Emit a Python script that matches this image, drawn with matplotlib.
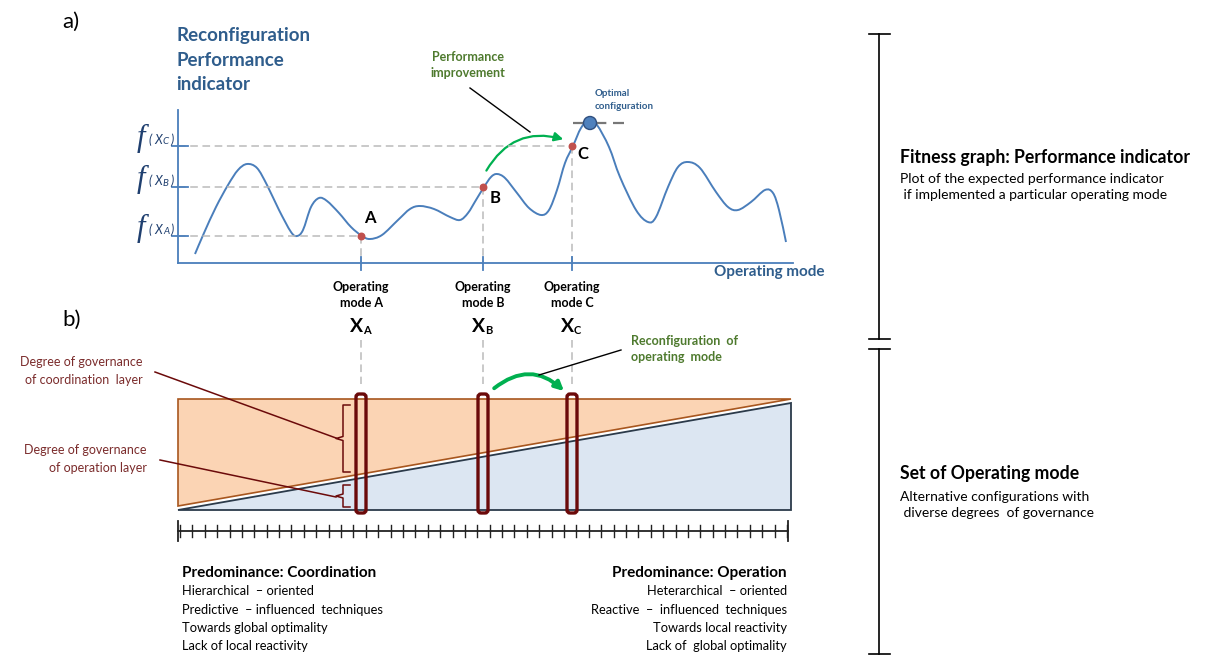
import numpy as np
import matplotlib
matplotlib.use('Agg')
import matplotlib.pyplot as plt
from matplotlib.patches import Polygon, FancyBboxPatch, FancyArrowPatch, Circle, PathPatch
from matplotlib.path import Path

plt.rcParams['font.family'] = ['Lato', 'DejaVu Sans']

# ── fitness curve (pixel coords) ──
curve_x = [195, 204, 216, 228, 238, 247, 257, 267, 279, 291, 297, 303, 311, 319, 327,
           339, 351, 362, 370, 382, 398, 410, 420, 434, 450, 460, 468, 476, 484, 491,
           497, 505, 517, 529, 541, 549, 557, 565, 573, 581, 589, 597, 609, 620, 636,
           648, 656, 668, 678, 688, 700, 716, 728, 738, 751, 765, 773, 779, 786]
curve_y = [254, 233, 207, 185, 170, 164, 168, 185, 210, 232, 236, 230, 207, 198, 201,
           213, 227, 236, 239, 235, 220, 209, 206, 209, 217, 220, 213, 200, 187, 177,
           174, 178, 193, 208, 215, 210, 190, 163, 146, 128, 120, 125, 147, 177, 210,
           222, 217, 187, 167, 162, 168, 192, 207, 210, 202, 190, 193, 210, 242]

modes = ['A', 'B', 'C']
mode_x = [361, 483, 572]
mode_y = [236, 187, 146]
optimum = (590, 123)

bottom_left = ['Predominance: Coordination', 'Hierarchical  \u2013 oriented',
               'Predictive  \u2013 influenced  techniques', 'Towards global optimality',
               'Lack of local reactivity']
bottom_right = ['Predominance: Operation', 'Heterarchical  \u2013 oriented',
                'Reactive  \u2013  influenced  techniques', 'Towards local reactivity',
                'Lack of  global optimality']
n_ruler_ticks = 50

BLUE_T = '#2F5D8C'
BLUE_L = '#4A7EBB'
GREEN_T = '#4E7A2E'
GREEN_A = '#00B050'
DRED = '#6B0A0A'
DRED_T = '#7B2C2C'


def smooth_path(xs, ys):
    """Catmull-Rom through the read points, drawn as cubic Bezier segments."""
    p = np.column_stack([xs, ys]).astype(float)
    verts = [p[0]]
    codes = [Path.MOVETO]
    for i in range(len(p) - 1):
        p0 = p[i - 1] if i > 0 else p[i]
        p3 = p[i + 2] if i + 2 < len(p) else p[i + 1]
        c1 = p[i] + (p[i + 1] - p0) / 6
        c2 = p[i + 1] - (p3 - p[i]) / 6
        verts += [c1, c2, p[i + 1]]
        codes += [Path.CURVE4] * 3
    return Path(verts, codes)


fig = plt.figure(figsize=(12.32, 6.55), dpi=100)
ax = fig.add_axes([0, 0, 1, 1])
ax.set_xlim(0, 1232)
ax.set_ylim(655, 0)
ax.axis('off')

# ── a) fitness graph ──
ax.text(62, 22, 'a)', fontsize=16, va='center')
ax.text(176, 60, 'Reconfiguration\nPerformance\nindicator', fontsize=13.5, fontweight='bold',
        color=BLUE_T, va='center', linespacing=1.5)

ax.plot([178, 178], [110, 263], color=BLUE_L, lw=1.3)
ax.plot([178, 793], [263, 263], color=BLUE_L, lw=1.3)
ax.text(825, 272, 'Operating mode', fontsize=11, fontweight='bold', color=BLUE_T,
        ha='right', va='center')

for m, x, y in zip(modes, mode_x, mode_y):
    ax.plot([178, x], [y, y], color='#BBBBBB', lw=1.1, ls=(0, (5, 3)))
    ax.plot([x, x], [y, 263], color='#BBBBBB', lw=1.1, ls=(0, (5, 3)))
    ax.plot([172, 188], [y, y], color=BLUE_L, lw=1.3)
    ax.plot([x, x], [257, 270], color=BLUE_L, lw=1.3)
    # f(X) labels
    ax.text(141, y - 8, 'f', fontsize=22, style='italic', family='Liberation Serif',
            color='#1F3F6F', ha='center', va='center')
    ax.text(149, y - 6, '( X', fontsize=9, style='italic', color='#1F3F6F', va='center')
    ax.text(163, y - 4, m, fontsize=7, style='italic', color='#1F3F6F', va='center')
    ax.text(170, y - 6, ')', fontsize=9, style='italic', color='#1F3F6F', va='center')
    # operating mode labels
    ax.text(x, 295, 'Operating\nmode ' + m, fontsize=9, fontweight='bold', ha='center',
            va='center', linespacing=1.35)
    ax.text(x + 2, 327, 'X', fontsize=14, fontweight='bold', ha='right', va='center')
    ax.text(x + 2, 330, m, fontsize=8, fontweight='bold', ha='left', va='center')

ax.add_patch(PathPatch(smooth_path(curve_x, curve_y), facecolor='none', edgecolor=BLUE_L,
                       lw=1.4))
ax.scatter(mode_x, mode_y, s=22, color='#C0504D', zorder=5)
for m, x, y, dx, dy in zip(modes, mode_x, mode_y, [9, 12, 11], [-18, 11, 8]):
    ax.text(x + dx, y + dy, m, fontsize=12, fontweight='bold', ha='center', va='center')

ax.plot([573, 624], [optimum[1], optimum[1]], color='#777777', lw=1.6, ls=(0, (6, 3)))
ax.add_patch(Circle(optimum, 6.5, facecolor='#4F81BD', edgecolor='#2F4F7F', lw=1, zorder=6))
ax.text(595, 100, 'Optimal\nconfiguration', fontsize=7, fontweight='bold', color=BLUE_T,
        va='center', linespacing=1.6)

ax.text(468, 65, 'Performance\nimprovement', fontsize=9, fontweight='bold', color=GREEN_T,
        ha='center', va='center', linespacing=1.4)
ax.plot([470, 530], [88, 132], color='black', lw=1)
ax.add_patch(FancyArrowPatch((485, 173), (566, 140), connectionstyle='arc3,rad=-0.4',
                             arrowstyle='-|>', mutation_scale=13, color=GREEN_A, lw=1.6))

# ── b) set of operating modes ──
ax.text(62, 320, 'b)', fontsize=16, va='center')
for x in mode_x:
    ax.plot([x, x], [340, 384], color='#BBBBBB', lw=1.1, ls=(0, (5, 3)))

ax.add_patch(Polygon([(178, 399), (791, 399), (178, 506)], closed=True,
                     facecolor='#FBD4B4', edgecolor='#A8561E', lw=1.2))
ax.add_patch(Polygon([(178, 510), (791, 510), (791, 403)], closed=True,
                     facecolor='#DCE6F2', edgecolor='#2B3A4A', lw=1.3))

for x in mode_x:
    ax.add_patch(FancyBboxPatch((x - 5, 394), 10, 119, boxstyle='round,pad=0,rounding_size=3',
                                facecolor='none', edgecolor=DRED, lw=2.4, zorder=4))

for y0, y1 in [(405, 472), (485, 507)]:
    ym = (y0 + y1) / 2
    ax.plot([350, 343, 343, 336, 343, 343, 350], [y0, y0, ym - 2, ym, ym + 2, y1, y1],
            color=DRED, lw=1.1)
ax.plot([155, 336], [372, 438], color=DRED, lw=1.1)
ax.plot([160, 336], [460, 497], color=DRED, lw=1.1)
ax.text(143, 371, 'Degree of governance\nof coordination  layer', fontsize=9, color=DRED_T,
        ha='right', va='center', linespacing=1.5)
ax.text(147, 459, 'Degree of governance\nof operation layer', fontsize=9, color=DRED_T,
        ha='right', va='center', linespacing=1.5)

ax.text(631, 349, 'Reconfiguration  of\noperating  mode', fontsize=9, fontweight='bold',
        color=GREEN_T, va='center', linespacing=1.4)
ax.plot([539, 621], [375, 350], color='black', lw=1)
ax.add_patch(FancyArrowPatch((492, 390), (566, 393), connectionstyle='arc3,rad=-0.45',
                             arrowstyle='-|>', mutation_scale=13, color=GREEN_A, lw=2.8))

# ruler
ax.plot([178, 788], [531, 531], color='#222222', lw=1.3)
for tx in np.linspace(180, 787, n_ruler_ticks):
    ax.plot([tx, tx], [525, 537], color='#222222', lw=1)
for tx in [178, 788]:
    ax.plot([tx, tx], [521, 541], color='#222222', lw=1.3)

for i, s in enumerate(bottom_left):
    ax.text(182, 573 + 18.3 * i, s, fontsize=11 if i == 0 else 9.3,
            fontweight='bold' if i == 0 else 'normal', va='center')
for i, s in enumerate(bottom_right):
    ax.text(787, 573 + 18.3 * i, s, fontsize=11 if i == 0 else 9.3,
            fontweight='bold' if i == 0 else 'normal', va='center', ha='right')

# ── right-hand brackets ──
for y0, y1 in [(34, 339), (349, 654)]:
    ax.plot([879, 879], [y0, y1], color='black', lw=1.2)
    ax.plot([869, 890], [y0, y0], color='black', lw=1.2)
    ax.plot([869, 890], [y1, y1], color='black', lw=1.2)

ax.text(900, 157, 'Fitness graph: Performance indicator', fontsize=12.7, fontweight='bold',
        va='center')
ax.text(900, 187, 'Plot of the expected performance indicator\n if implemented a particular operating mode',
        fontsize=10, va='center', linespacing=1.35)
ax.text(900, 474, 'Set of Operating mode', fontsize=12.7, fontweight='bold', va='center')
ax.text(900, 505, 'Alternative configurations with\n diverse degrees  of governance',
        fontsize=10, va='center', linespacing=1.35)

fig.savefig('out.png', dpi=100)
